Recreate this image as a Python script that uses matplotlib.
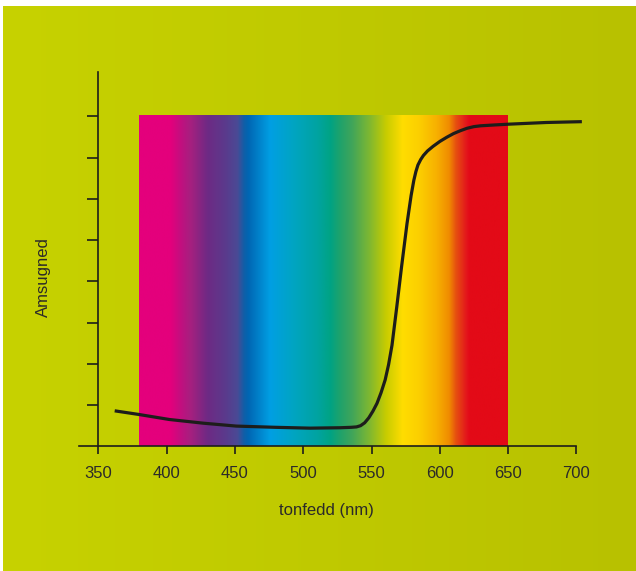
import numpy as np
import matplotlib
matplotlib.use("Agg")
import matplotlib.pyplot as plt
from matplotlib.colors import LinearSegmentedColormap, to_rgb

# ---- data ----
wavelength = [362, 380, 402, 427, 451, 480, 505, 527, 535, 539, 542, 545, 548, 551, 554, 557,
              560, 562.5, 565, 568.5, 572, 576, 579, 581, 582.5, 584, 586, 588, 591, 595, 600,
              605, 610, 615, 620, 625, 630, 640, 651, 678, 704]
absorbance = [0.86, 0.77, 0.65, 0.56, 0.49, 0.46, 0.44, 0.45, 0.46, 0.47, 0.50, 0.57, 0.69,
              0.85, 1.04, 1.30, 1.61, 1.98, 2.45, 3.38, 4.35, 5.40, 6.08, 6.45, 6.66, 6.82,
              6.95, 7.05, 7.16, 7.27, 7.39, 7.49, 7.58, 7.65, 7.71, 7.75, 7.77, 7.79, 7.81,
              7.85, 7.87]
x_ticks = [350, 400, 450, 500, 550, 600, 650, 700]
y_ticks = [1, 2, 3, 4, 5, 6, 7, 8]
spectrum_range = (380, 650)
spectrum_stops_nm = [380, 403, 411, 418, 430, 443, 452, 457, 460, 476, 494, 511, 520, 527, 536,
                     549, 561, 573, 585, 598, 607, 612, 620, 622, 650]
spectrum_colors = ["#e4007c", "#e4007c", "#c0107f", "#a5207f", "#6e2a84", "#5b3a8c", "#4a4a95",
                   "#0f5fa8", "#0066b3", "#009fe3", "#00a5c0", "#00a3a0", "#00a384", "#1ea26c",
                   "#40a55a", "#80b830", "#c8cc00", "#ffdd00", "#fccf00", "#f7b000", "#f08c00",
                   "#e65010", "#e3141c", "#e30a17", "#e30a17"]
xlabel = "tonfedd (nm)"
ylabel = "Amsugned"

W, H = 636, 571
fig = plt.figure(figsize=(W / 100, H / 100), dpi=100)
fig.patch.set_facecolor("white")

# background gradient panel
bg = fig.add_axes([3 / W, 0, (W - 3) / W, (H - 6) / H])
bg.axis("off")
c0 = np.array(to_rgb("#c7d200"))
c1 = np.array(to_rgb("#b8c100"))
t = np.linspace(0, 1, 256)
grad = (c0[None, :] * (1 - t[:, None]) + c1[None, :] * t[:, None])[None, :, :]
bg.imshow(grad, aspect="auto", extent=(0, 1, 0, 1))
bg.set_xlim(0, 1)
bg.set_ylim(0, 1)

# main axes
px_per_nm = 68.3 / 50
x_left_px, x350_px, x_right_px = 79, 98.3, 576.4
y0_px, ytop_px, tick_px = 446.3, 72, 41.25
xmin = 350 - (x350_px - x_left_px) / px_per_nm
ymax = (y0_px - ytop_px) / tick_px
ax = fig.add_axes([x_left_px / W, 1 - y0_px / H, (x_right_px - x_left_px) / W,
                   (y0_px - ytop_px) / H])
ax.patch.set_alpha(0)
ax.set_xlim(xmin, 700)
ax.set_ylim(0, ymax)

# spectrum
positions = [(v - spectrum_range[0]) / (spectrum_range[1] - spectrum_range[0]) for v in spectrum_stops_nm]
cmap = LinearSegmentedColormap.from_list("spec", list(zip(positions, spectrum_colors)), N=1024)
ax.imshow(np.linspace(0, 1, 1024)[None, :], cmap=cmap, aspect="auto",
          extent=(spectrum_range[0], spectrum_range[1], 0, y_ticks[-1]), zorder=1,
          interpolation="bilinear")

ax.plot(wavelength, absorbance, color="#1d1d1b", lw=2.3, solid_capstyle="butt",
        solid_joinstyle="round", zorder=3, clip_on=False, antialiased=True)

ink = "#1d1d1b"
for s in ["top", "right"]:
    ax.spines[s].set_visible(False)
ax.spines["left"].set_position(("data", 350))
ax.spines["left"].set_color(ink)
ax.spines["bottom"].set_color(ink)
ax.spines["left"].set_linewidth(1.2)
ax.spines["bottom"].set_linewidth(1.2)
ax.set_xticks(x_ticks)
ax.set_yticks(y_ticks)
ax.set_yticklabels([])
ax.tick_params(axis="x", direction="out", length=6, width=1.2, color=ink, pad=8.5,
               labelsize=12, labelcolor="#2b2a29")
ax.tick_params(axis="y", direction="out", length=8, width=1.2, color=ink)
for lab in ax.get_xticklabels():
    lab.set_fontfamily("Liberation Sans")

fig.text(326 / W, 1 - 511 / H, xlabel, ha="center", va="center", fontsize=12,
         color="#2b2a29", family="Liberation Sans")
fig.text(43 / W, 1 - 277 / H, ylabel, ha="center", va="center", fontsize=12,
         color="#2b2a29", family="Liberation Sans", rotation=90)

fig.savefig("out.png", dpi=100, facecolor=fig.get_facecolor())
